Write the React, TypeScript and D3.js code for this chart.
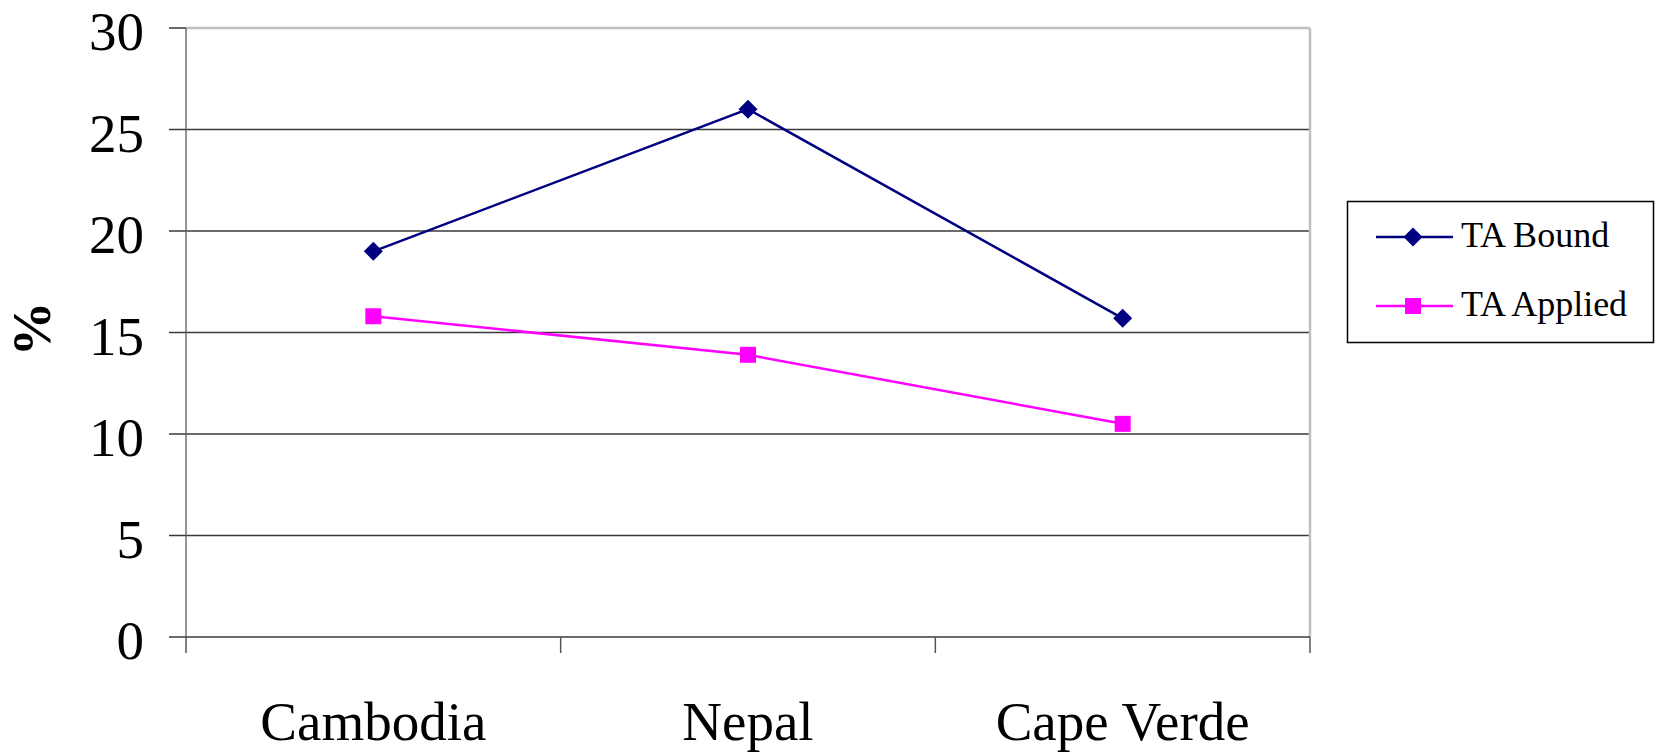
import React from "react";
import * as d3 from "d3";

const categories = ["Cambodia", "Nepal", "Cape Verde"];
const taBound = [19.0, 26.0, 15.7];
const taApplied = [15.8, 13.9, 10.5];
const yTicks = [0, 5, 10, 15, 20, 25, 30];
const seriesNames = ["TA Bound", "TA Applied"];

const W = 1656;
const H = 754;
const left = 186;
const right = 1310;
const top = 28;
const bottom = 637;
const FONT = "'Liberation Serif', 'Times New Roman', serif";

export default function App() {
  const x = d3.scaleBand<string>().domain(categories).range([left, right]).padding(0);
  const y = d3.scaleLinear().domain([0, 30]).range([bottom, top]);
  const cx = (c: string) => (x(c) as number) + x.bandwidth() / 2;

  const line = d3
    .line<number>()
    .x((_, i) => cx(categories[i]))
    .y((d) => y(d));

  const diamond = (px: number, py: number, r: number) =>
    `M${px},${py - r}L${px + r},${py}L${px},${py + r}L${px - r},${py}Z`;

  const boundaries = [...categories.map((c) => x(c) as number), right];

  return (
    <svg
      width={W}
      height={H}
      style={{ position: "absolute", left: 0, top: 0, background: "#fff" }}
      fontFamily={FONT}
    >
      {/* gridlines */}
      {yTicks
        .filter((t) => t > 0 && t < 30)
        .map((t) => (
          <line key={"g" + t} x1={left} x2={right} y1={y(t)} y2={y(t)} stroke="#3a3a3a" strokeWidth={1.5} />
        ))}
      {/* plot border top/right */}
      <line x1={left} x2={right} y1={y(30)} y2={y(30)} stroke="#c0c0c0" strokeWidth={2.5} />
      <line x1={right} x2={right} y1={top} y2={bottom} stroke="#c0c0c0" strokeWidth={2.5} />
      {/* y axis */}
      <line x1={left} x2={left} y1={top} y2={bottom} stroke="#707070" strokeWidth={1.5} />
      {yTicks.map((t) => (
        <g key={"yt" + t}>
          <line x1={169} x2={left} y1={y(t)} y2={y(t)} stroke="#3a3a3a" strokeWidth={1.5} />
          <text x={144} y={y(t) + 22} textAnchor="end" fontSize={55} fill="#000">
            {t}
          </text>
        </g>
      ))}
      {/* x axis */}
      <line x1={left} x2={right} y1={bottom} y2={bottom} stroke="#3a3a3a" strokeWidth={1.5} />
      {boundaries.map((b, i) => (
        <line key={"xt" + i} x1={b} x2={b} y1={bottom} y2={bottom + 16} stroke="#555" strokeWidth={1.5} />
      ))}
      {categories.map((c) => (
        <text key={c} x={cx(c)} y={740} textAnchor="middle" fontSize={55} fill="#000">
          {c}
        </text>
      ))}
      {/* y label */}
      <text
        x={50}
        y={329}
        transform="rotate(-90 50 329)"
        textAnchor="middle"
        fontSize={55}
        fontWeight="bold"
        fill="#000"
      >
        %
      </text>
      {/* series */}
      <path d={line(taBound) || ""} fill="none" stroke="#000080" strokeWidth={2.5} />
      <path d={line(taApplied) || ""} fill="none" stroke="#FF00FF" strokeWidth={2.5} />
      {taBound.map((v, i) => (
        <path key={"b" + i} d={diamond(cx(categories[i]), y(v), 9.5)} fill="#000080" />
      ))}
      {taApplied.map((v, i) => (
        <rect key={"a" + i} x={cx(categories[i]) - 8} y={y(v) - 8} width={16} height={16} fill="#FF00FF" />
      ))}
      {/* legend */}
      <rect x={1347.5} y={201.5} width={306} height={141} fill="#fff" stroke="#000" strokeWidth={1.5} />
      <line x1={1376} x2={1453} y1={237} y2={237} stroke="#000080" strokeWidth={2.5} />
      <path d={diamond(1413, 237, 9.5)} fill="#000080" />
      <text x={1461} y={247} fontSize={36} fill="#000">
        {seriesNames[0]}
      </text>
      <line x1={1376} x2={1453} y1={306} y2={306} stroke="#FF00FF" strokeWidth={2.5} />
      <rect x={1405} y={298} width={16} height={16} fill="#FF00FF" />
      <text x={1461} y={316} fontSize={36} fill="#000">
        {seriesNames[1]}
      </text>
    </svg>
  );
}
